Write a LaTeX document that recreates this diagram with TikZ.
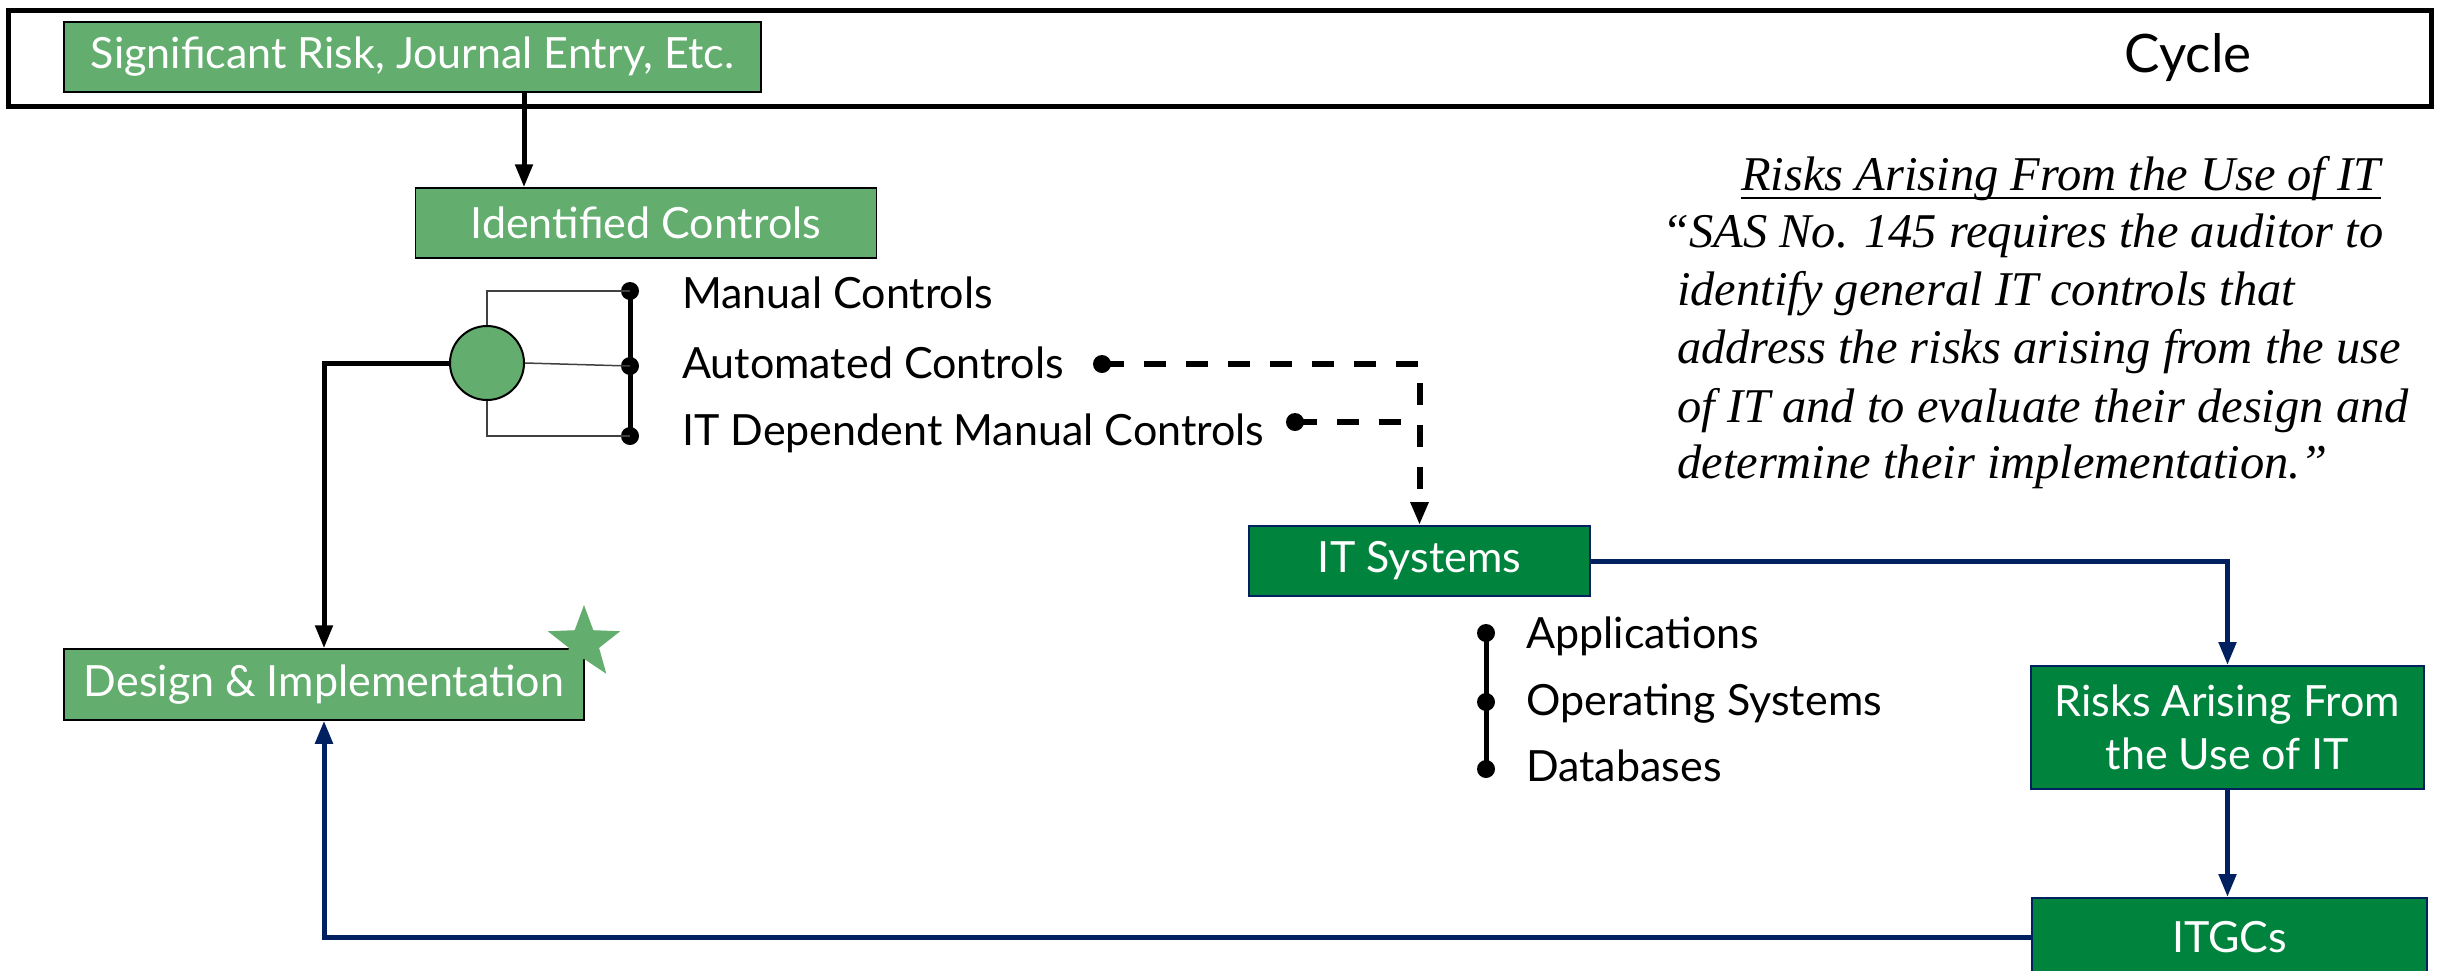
\documentclass[tikz,border=0pt]{standalone}
\usepackage{fontspec}
\setmainfont{Lato}
\newfontfamily\qfont{Liberation Serif}
\usetikzlibrary{arrows.meta,shapes.geometric}
\definecolor{lgreen}{RGB}{99,174,111}
\definecolor{dgreen}{RGB}{0,132,61}
\definecolor{navy}{RGB}{0,32,96}
\definecolor{thin}{RGB}{64,64,64}
\begin{document}
\begin{tikzpicture}[x=1pt,y=-1pt,
  lbox/.style={draw=black,line width=1.5pt,fill=lgreen,text=white,inner sep=0pt,font=\fontsize{43}{52}\selectfont},
  dbox/.style={draw=navy,line width=2pt,fill=dgreen,text=white,inner sep=0pt,align=center,font=\fontsize{43}{53}\selectfont},
  lbl/.style={anchor=mid west,inner sep=0pt,font=\fontsize{43}{48}\selectfont},
  qt/.style={anchor=base west,inner sep=0pt,font=\qfont\itshape\fontsize{48.5}{58}\selectfont},
  blk/.style={line width=5pt,draw=black},
  nav/.style={line width=5pt,draw=navy},
  tip/.style={-{Triangle[width=17pt,length=23pt]}},
  dotn/.style={circle,fill=black,inner sep=0pt,minimum size=18pt},
  dsh/.style={line width=6pt,dash pattern=on 22pt off 20pt},
  thinline/.style={line width=1.5pt,draw=thin}
]
\useasboundingbox (0,0) rectangle (2440,970);
\fill[white] (0,0) rectangle (2440,970);

% cycle frame
\draw[line width=5pt] (8,10) rectangle (2431,106);
\node[font=\fontsize{53}{60}\selectfont,inner sep=0pt] (cyc) at (2188,58) {Cycle};

% boxes
\node[lbox,minimum width=697pt,minimum height=70pt] (sig) at (412.5,57) {Significant Risk, Journal Entry, Etc.};
\node[lbox,minimum width=461pt,minimum height=70pt] (ident) at (646,223) {Identified Controls};
\node[lbox,minimum width=520pt,minimum height=71pt] (di) at (324,684.5) {Design \& Implementation};
\node[star,star points=5,star point ratio=2.4,fill=lgreen,minimum size=76pt,inner sep=0pt] (st) at (584,643) {};
\node[dbox,minimum width=341pt,minimum height=70pt] (its) at (1419.5,561) {IT Systems};
\node[dbox,minimum width=393pt,minimum height=123pt] (risks) at (2227.5,727.5) {Risks Arising From\\the Use of IT};
\node[dbox,minimum width=395pt,minimum height=78pt] (itgc) at (2229.5,937) {ITGCs};

% hub and controls list
\node[circle,draw=black,line width=2pt,fill=lgreen,minimum size=74pt,inner sep=0pt] (hub) at (487,363) {};
\node[dotn] (m1) at (630,291) {};
\node[dotn] (m2) at (630,366) {};
\node[dotn] (m3) at (630,436) {};
\draw[line width=5pt] (m1.center) -- (m3.center);
\draw[thinline] (hub.north) |- (m1.center);
\draw[thinline] (hub.east) -- (m2.center);
\draw[thinline] (hub.south) |- (m3.center);
\node[lbl] (t1) at (682,306) {Manual Controls};
\node[lbl] (t2) at (682,376) {Automated Controls};
\node[lbl] (t3) at (682,443) {IT Dependent Manual Controls};

% IT systems list
\node[dotn] (a1) at (1486,633) {};
\node[dotn] (a2) at (1486,702) {};
\node[dotn] (a3) at (1486,769) {};
\draw[line width=5pt] (a1.center) -- (a3.center);
\node[lbl] (s1) at (1526,646) {Applications};
\node[lbl] (s2) at (1526,713) {Operating Systems};
\node[lbl] (s3) at (1526,779) {Databases};

% dashed links
\node[dotn] (ac) at (1102,364) {};
\node[dotn] (idm) at (1295,422) {};
\draw[dsh,tip] (ac.center) -| (its.north);
\draw[dsh] (idm.center) -- (idm.center -| its.north);

% black connectors
\coordinate (k1) at (524,0);
\draw[blk,tip] (sig.south -| k1) -- (ident.north -| k1);
\draw[blk,tip] (hub.west) -| (di.north);

% navy connectors
\draw[nav,tip] (its.east) -| (risks.north);
\draw[nav,tip] (risks.south) -- (risks.south |- itgc.north);
\draw[nav,tip] (itgc.west) -| (di.south);

% quote
\node[qt] (q0) at (1741,190) {Risks Arising From the Use of IT};
\draw[line width=2.5pt] ([yshift=-8pt]q0.base west) -- ([yshift=-8pt]q0.base east);
\node[qt] (q1) at (1662,247) {“SAS No. 145 requires the auditor to};
\node[qt] (q2) at (1677,305) {identify general IT controls that};
\node[qt] (q3) at (1677,363) {address the risks arising from the use};
\node[qt] (q4) at (1677,422) {of IT and to evaluate their design and};
\node[qt] (q5) at (1677,478) {determine their implementation.”};
\end{tikzpicture}
\end{document}
